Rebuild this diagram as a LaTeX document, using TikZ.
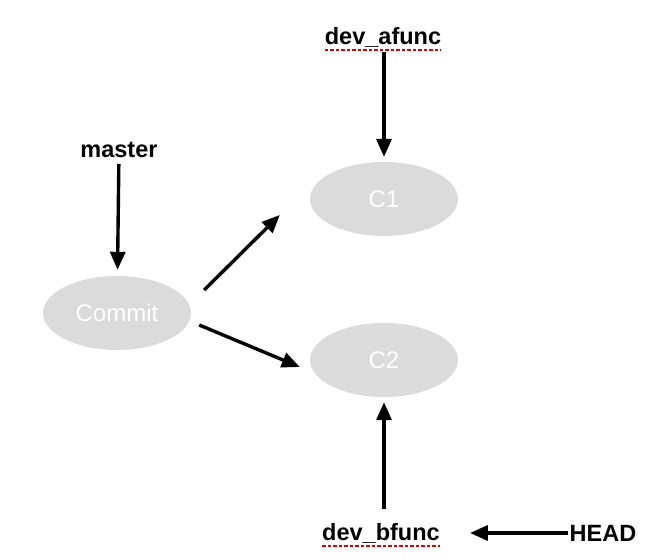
\documentclass[tikz,border=0pt]{standalone}
\usepackage{fontspec}
\setmainfont{Liberation Sans}
\usetikzlibrary{arrows.meta,shapes.geometric}

\begin{document}
\begin{tikzpicture}[x=1pt, y=-1pt,
		commit/.style={ellipse, fill=black!14, minimum width=148pt, minimum height=74pt, inner sep=0pt, text=white, font=\fontsize{24}{26}\selectfont},
		ref/.style={inner sep=0pt, font=\bfseries\fontsize{23.5}{26}\selectfont},
		arr/.style={line width=3.4pt, -{Triangle[length=18pt, width=15pt]}},
		squiggle/.style={red!85!black, line width=2pt, dash pattern=on 3.5pt off 2pt}]
		%%%%% START %%%%%
		
		\useasboundingbox (0, 0) rectangle (670, 560);
		
		\node[commit] (commit) at (117, 313) {Commit};
		\node[commit] (c1) at (384, 199) {C1};
		\node[commit] (c2) at (384, 360) {C2};
		
		\node[ref] (master) at (119, 150) {master};
		\node[ref] (afunc) at (383, 37) {dev\_afunc};
		\node[ref] (bfunc) at (381, 533) {dev\_bfunc};
		\node[ref] (head) at (603, 533) {HEAD};
		
		\draw[squiggle] ([yshift=-2.5pt]afunc.south west) -- ([yshift=-2.5pt]afunc.south east);
		\draw[squiggle] ([yshift=-2.5pt]bfunc.south west) -- ([yshift=-2.5pt]bfunc.south east);
		
		\draw[arr, shorten <=6pt, shorten >=6pt] (master) -- (commit);
		\draw[arr, shorten <=5pt, shorten >=5pt] (afunc.south -| c1) -- (c1);
		\draw[arr, shorten <=14pt, shorten >=5pt] (bfunc.north -| c2) -- (c2);
		\draw[arr, shorten <=2pt, shorten >=30pt] (head) -- (bfunc);
		
		\draw[arr] ([xshift=13pt, yshift=23pt]commit.east) -- ([xshift=-30pt, yshift=-16pt]c1.west);
		\draw[arr] ([xshift=8pt, yshift=-12pt]commit.east) -- ([xshift=-10pt, yshift=-7pt]c2.west);
		
		%%%%% END %%%%%
	\end{tikzpicture}
\end{document}
